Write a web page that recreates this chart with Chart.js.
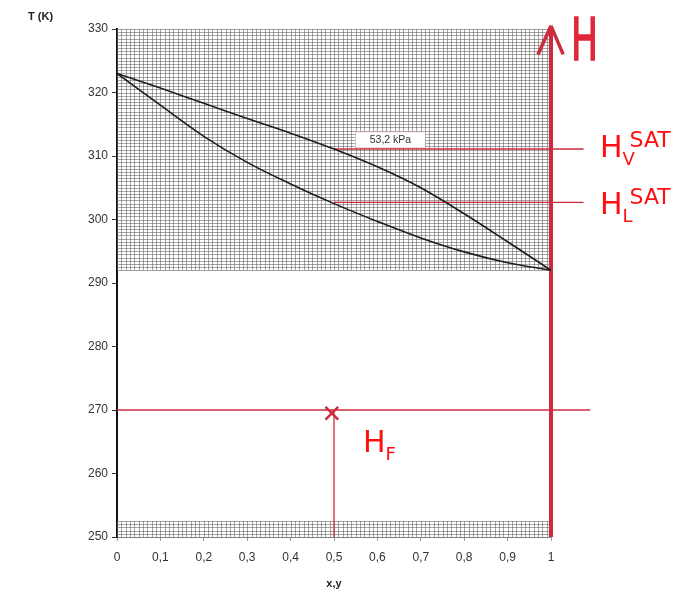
<!DOCTYPE html>
<html>
<head>
<meta charset="utf-8">
<script src="https://cdn.jsdelivr.net/npm/chart.js@4.4.0/dist/chart.umd.min.js"></script>
<style>
  html, body { margin: 0; padding: 0; background: #fff; }
  #wrap { width: 677px; height: 592px; }
</style>
</head>
<body>
<div id="wrap"><canvas id="chart" width="677" height="592"></canvas></div>
<script>
'use strict';

/* DATA */
const xValues = [0, 0.1, 0.2, 0.3, 0.4, 0.5, 0.6, 0.7, 0.8, 0.9, 1];
const dewT = [323, 320.7, 318.3, 315.9, 313.6, 311.1, 308.3, 305.0, 300.9, 296.5, 292];
const bubbleT = [323, 318.0, 313.1, 309.0, 305.6, 302.5, 299.7, 297.1, 294.9, 293.2, 292];
const yTicks = [250, 260, 270, 280, 290, 300, 310, 320, 330];
const xTicks = [0, 0.1, 0.2, 0.3, 0.4, 0.5, 0.6, 0.7, 0.8, 0.9, 1];
const pressureLabel = '53,2 kPa';

/* MARKERS (sketched in red on top of the diagram) */
const hVapSat = 311.1;
const hLiqSat = 302.7;
const feedX = 0.5;
const feedT = 270;
const feedMark = { x: 0.495, y: 269.5 };
const lineEnd = 1.075;   // red lines run past the right edge
const feedLineEnd = 1.09;
const arrowTop = 330.5;
const arrowArm = 326;

/* GRID BANDS (where the squared paper shows) */
const gridBands = [[292, 330], [250, 252.5]];

const red = '#cc2b3e';
const pts = (xs, ys) => xs.map((x, i) => ({ x: x, y: ys[i] }));

function fmtX(v) {
  if (Math.abs(v) < 1e-9) return '0';
  if (Math.abs(v - 1) < 1e-9) return '1';
  return v.toFixed(1).replace('.', ',');
}

/* PLUGIN: squared paper + text labels */
const paper = {
  id: 'paper',
  beforeDatasetsDraw(chart) {
    const { ctx, scales: { x, y } } = chart;
    ctx.save();
    ctx.strokeStyle = 'rgba(95,95,95,0.8)';
    ctx.lineWidth = 0.7;
    gridBands.forEach(([lo, hi]) => {
      const yTop = y.getPixelForValue(hi);
      const yBot = y.getPixelForValue(lo);
      ctx.beginPath();
      for (let i = 0; i <= 100; i++) {
        const px = Math.round(x.getPixelForValue(i / 100)) + 0.5;
        ctx.moveTo(px, yTop);
        ctx.lineTo(px, yBot);
      }
      for (let t = lo; t <= hi + 1e-9; t += 0.5) {
        const py = Math.round(y.getPixelForValue(t)) + 0.5;
        ctx.moveTo(x.left, py);
        ctx.lineTo(x.right, py);
      }
      ctx.stroke();
    });
    ctx.restore();
  },
  afterDatasetsDraw(chart) {
    const { ctx, scales: { x, y } } = chart;
    ctx.save();
    // pressure box
    const bx = x.getPixelForValue(0.63);
    const by = y.getPixelForValue(312.55);
    ctx.fillStyle = '#fff';
    ctx.fillRect(bx - 35, by - 8, 70, 16);
    ctx.strokeStyle = 'rgba(200,140,150,0.6)';
    ctx.lineWidth = 0.8;
    ctx.strokeRect(bx - 35, by - 8, 70, 16);
    ctx.fillStyle = '#333';
    ctx.font = '10.5px "Liberation Sans", Arial, sans-serif';
    ctx.textAlign = 'center';
    ctx.textBaseline = 'middle';
    ctx.fillText(pressureLabel, bx, by);

    // axis title T (K)
    ctx.font = 'bold 11px "Liberation Sans", Arial, sans-serif';
    ctx.fillStyle = '#222';
    ctx.textAlign = 'left';
    ctx.fillText('T (K)', 28, 17);

    // red hand-written labels
    ctx.fillStyle = '#ff1010';
    ctx.textBaseline = 'alphabetic';
    const font = s => s + 'px "DejaVu Sans", sans-serif';
    function sub(base, bx0, by0, subTxt, supTxt) {
      ctx.font = font(30);
      ctx.fillText(base, bx0, by0);
      const w = ctx.measureText(base).width;
      if (subTxt) {
        ctx.font = font(18);
        ctx.fillText(subTxt, bx0 + w, by0 + 8);
      }
      if (supTxt) {
        ctx.font = font(22);
        ctx.fillText(supTxt, bx0 + w + 7, by0 - 10);
      }
    }
    sub('H', 600, 157, 'V', 'SAT');
    sub('H', 600, 214, 'L', 'SAT');
    sub('H', 363, 452, 'F', null);

    // big H beside the arrow
    ctx.save();
    ctx.fillStyle = '#e0283a';
    ctx.strokeStyle = '#e0283a';
    ctx.lineWidth = 1.5;
    ctx.translate(571, 60);
    ctx.scale(0.62, 1);
    ctx.font = font(58);
    ctx.fillText('H', 0, 0);
    ctx.strokeText('H', 0, 0);
    ctx.restore();
    ctx.restore();
  }
};

const redLine = (data, width) => ({
  data: data,
  borderColor: red,
  borderWidth: width || 1.3,
  pointRadius: 0,
  fill: false,
  clip: false,
  tension: 0
});

new Chart(document.getElementById('chart'), {
  type: 'line',
  data: {
    datasets: [
      {
        label: 'dew',
        data: pts(xValues, dewT),
        borderColor: '#1e1e1e',
        borderWidth: 1.6,
        pointRadius: 0,
        tension: 0.35
      },
      {
        label: 'bubble',
        data: pts(xValues, bubbleT),
        borderColor: '#1e1e1e',
        borderWidth: 1.6,
        pointRadius: 0,
        tension: 0.35
      },
      redLine([{ x: feedX, y: hVapSat }, { x: lineEnd, y: hVapSat }]),
      redLine([{ x: feedX, y: hLiqSat }, { x: lineEnd, y: hLiqSat }]),
      redLine([{ x: 0, y: feedT }, { x: feedLineEnd, y: feedT }]),
      redLine([{ x: feedX, y: feedT }, { x: feedX, y: 250 }]),
      redLine([{ x: 1, y: 250 }, { x: 1, y: arrowTop }], 4),
      // arrow arms (right arm listed right-to-left so no point is skipped)
      redLine([{ x: 0.97, y: arrowArm }, { x: 1, y: arrowTop }], 3.5),
      redLine([{ x: 1.028, y: arrowArm }, { x: 1, y: arrowTop }], 3.5),
      {
        label: 'feed',
        data: [feedMark],
        showLine: false,
        pointStyle: 'crossRot',
        pointRadius: 9,
        pointBorderWidth: 2.4,
        pointBorderColor: red,
        clip: false
      }
    ]
  },
  options: {
    responsive: false,
    animation: false,
    layout: { padding: { top: 29, right: 126, bottom: 0, left: 0 } },
    plugins: { legend: { display: false }, tooltip: { enabled: false } },
    scales: {
      x: {
        type: 'linear',
        min: 0,
        max: 1,
        afterBuildTicks: s => { s.ticks = xTicks.map(v => ({ value: v })); },
        afterFit: s => { s.height = 55; },
        ticks: {
          callback: v => fmtX(v),
          color: '#333',
          padding: 9,
          maxRotation: 0,
          font: { family: '"Liberation Sans", Arial, sans-serif', size: 12 }
        },
        grid: { drawOnChartArea: false, drawTicks: true, tickLength: 4, color: '#999' },
        border: { color: '#aaa', width: 1 },
        title: {
          display: true,
          text: 'x,y',
          color: '#222',
          padding: { top: 0, bottom: 1 },
          font: { family: '"Liberation Sans", Arial, sans-serif', size: 11, weight: 'bold' }
        }
      },
      y: {
        type: 'linear',
        min: 250,
        max: 330,
        afterBuildTicks: s => { s.ticks = yTicks.map(v => ({ value: v })); },
        afterFit: s => { s.width = 117; },
        ticks: {
          color: '#333',
          padding: 4,
          font: { family: '"Liberation Sans", Arial, sans-serif', size: 12 }
        },
        grid: { drawOnChartArea: false, drawTicks: true, tickLength: 5, color: '#333' },
        border: { color: '#111', width: 2 }
      }
    }
  },
  plugins: [paper]
});
</script>
</body>
</html>
